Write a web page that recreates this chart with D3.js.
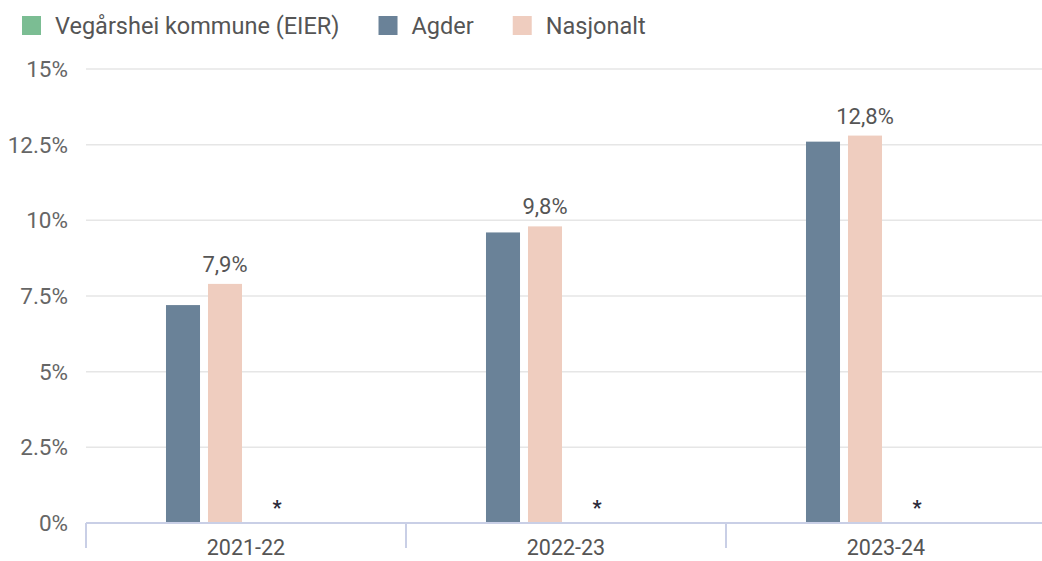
<!DOCTYPE html>
<html>
<head>
<meta charset="utf-8">
<script src="https://cdn.jsdelivr.net/npm/d3@7"></script>
<style>
  body { margin: 0; background: #fff; }
  svg text { font-family: Roboto, "Noto Sans", sans-serif; }
</style>
</head>
<body>
<svg id="chart" width="1042" height="561"></svg>
<script>
// data
var years = ["2021-22", "2022-23", "2023-24"];
var agder = [7.2, 9.6, 12.6];
var nasjonalt = [7.9, 9.8, 12.8];
var vegarshei = [null, null, null]; // shown as * (no data)
var yTicks = [0, 2.5, 5, 7.5, 10, 12.5, 15];
var legendNames = ["Vegårshei kommune (EIER)", "Agder", "Nasjonalt"];
var legendColors = ["#7bbd93", "#6a8298", "#efcdbf"];

var W = 1042, H = 561;
var svg = d3.select("#chart");

var x = d3.scaleBand().domain(years).range([86, 1046]).padding(0);
var slots = ["Agder", "Nasjonalt", "Vegarshei", "spacer"];
var groupW = 168;
var xi = d3.scaleBand().domain(slots)
    .range([(x.bandwidth() - groupW) / 2, (x.bandwidth() + groupW) / 2])
    .paddingInner(0.19).paddingOuter(0.095);
var y = d3.scaleLinear().domain([0, 15]).range([523, 69]);

var fmtTick = function(d){ return String(d) + "%"; };

// gridlines
svg.append("g").selectAll("line")
  .data(yTicks.filter(function(d){ return d > 0; }))
  .enter().append("line")
  .attr("x1", 86).attr("x2", W)
  .attr("y1", function(d){ return y(d); })
  .attr("y2", function(d){ return y(d); })
  .attr("stroke", "#e6e6e6").attr("stroke-width", 1.5);

// y labels
svg.append("g").selectAll("text")
  .data(yTicks)
  .enter().append("text")
  .attr("x", 68)
  .attr("y", function(d){ return y(d); })
  .attr("dy", "0.35em")
  .attr("text-anchor", "end")
  .attr("font-size", 22.5)
  .attr("fill", "#666")
  .text(fmtTick);

var groups = svg.append("g").selectAll("g")
  .data(years)
  .enter().append("g")
  .attr("transform", function(d){ return "translate(" + x(d) + ",0)"; });

groups.append("rect")
  .attr("x", xi("Agder"))
  .attr("width", xi.bandwidth())
  .attr("y", function(d, i){ return y(agder[i]); })
  .attr("height", function(d, i){ return y(0) - y(agder[i]); })
  .attr("fill", legendColors[1]);

groups.append("rect")
  .attr("x", xi("Nasjonalt"))
  .attr("width", xi.bandwidth())
  .attr("y", function(d, i){ return y(nasjonalt[i]); })
  .attr("height", function(d, i){ return y(0) - y(nasjonalt[i]); })
  .attr("fill", legendColors[2]);

groups.append("text")
  .attr("x", xi("Nasjonalt") + xi.bandwidth() / 2)
  .attr("y", function(d, i){ return y(nasjonalt[i]) - 12; })
  .attr("text-anchor", "middle")
  .attr("font-size", 22)
  .attr("fill", "#555")
  .text(function(d, i){ return String(nasjonalt[i]).replace(".", ",") + "%"; });

// missing data marker
groups.append("text")
  .attr("x", xi("Vegarshei") + xi.bandwidth() / 2 + 10)
  .attr("y", function(d, i){ return vegarshei[i] == null ? y(0) - 8 : y(vegarshei[i]); })
  .attr("text-anchor", "middle")
  .attr("font-size", 20)
  .attr("font-weight", "bold")
  .attr("fill", "#2b2b3a")
  .text("*");

// x axis
var xAxis = svg.append("g");
xAxis.append("line")
  .attr("x1", 86).attr("x2", W)
  .attr("y1", 523).attr("y2", 523)
  .attr("stroke", "#c9cfe6").attr("stroke-width", 2);
xAxis.selectAll(".tk")
  .data(years.concat(["end"]))
  .enter().append("line")
  .attr("class", "tk")
  .attr("x1", function(d){ return d == "end" ? x.range()[1] : x(d); })
  .attr("x2", function(d){ return d == "end" ? x.range()[1] : x(d); })
  .attr("y1", 523).attr("y2", 548)
  .attr("stroke", "#c9cfe6").attr("stroke-width", 2);
xAxis.selectAll(".lbl")
  .data(years)
  .enter().append("text")
  .attr("class", "lbl")
  .attr("x", function(d){ return x(d) + x.bandwidth() / 2; })
  .attr("y", 547)
  .attr("dy", "0.35em")
  .attr("text-anchor", "middle")
  .attr("font-size", 21.5)
  .attr("fill", "#555")
  .text(function(d){ return d; });

// legend
var lg = svg.append("g");
var lx = 22;
legendNames.forEach(function(name, i){
  lg.append("rect")
    .attr("x", lx).attr("y", 16)
    .attr("width", 19).attr("height", 19)
    .attr("fill", legendColors[i]);
  var t = lg.append("text")
    .attr("x", lx + 33).attr("y", 26)
    .attr("dy", "0.35em")
    .attr("font-size", 23.5)
    .attr("fill", "#555")
    .text(name);
  lx = lx + 33 + t.node().getComputedTextLength() + 39;
});
</script>
</body>
</html>
